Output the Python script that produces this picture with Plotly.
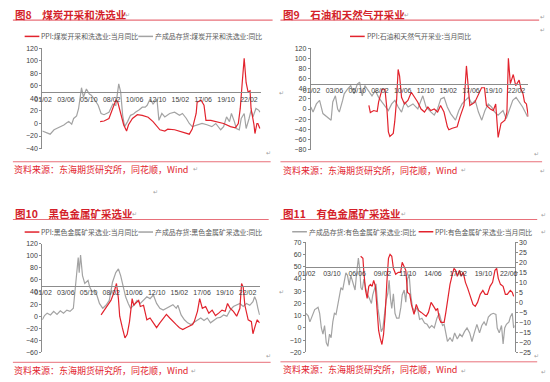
import plotly.graph_objects as go

W, H = 550, 382

# ---------------- data (decimal year, value) ----------------
ticks_a = ["01/02", "03/06", "05/10", "08/02", "10/06", "12/10", "15/02", "17/06", "19/10", "22/02"]
ticks_b = ["01/02", "03/10", "06/06", "09/02", "11/10", "14/06", "17/02", "19/10", "22/06"]

coal_inv = [(2001.0, -12), (2001.3, -14), (2001.8, -17), (2002.2, -10), (2002.5, -8), (2002.9, -5),
            (2003.2, -2.5), (2003.5, 1), (2003.7, 3), (2004.0, -1), (2004.2, 8), (2004.5, 12),
            (2004.7, 23.5), (2005.0, 57), (2005.2, 42), (2005.5, 55), (2005.8, 47), (2006.0, 45),
            (2006.3, 39), (2006.7, 29), (2007.0, 16), (2007.3, 14), (2007.5, 16), (2007.8, 18),
            (2008.2, 31), (2008.5, 29), (2008.8, 63), (2009.0, 50), (2009.2, 13), (2009.4, -5),
            (2009.7, 3), (2010.0, 13), (2010.3, 15), (2010.5, 18), (2010.9, 22), (2011.2, 26),
            (2011.5, 26), (2011.7, 29), (2012.0, 39), (2012.3, 31), (2012.7, 39), (2012.9, 5),
            (2013.2, 16), (2013.5, 10.5), (2014.0, 16), (2014.5, 18), (2015.0, 13), (2015.3, 16),
            (2015.7, 8), (2016.0, 0), (2016.3, -5), (2016.8, -2), (2017.3, 0), (2017.8, -2),
            (2018.3, -5), (2018.7, 0), (2019.2, -10), (2019.5, -5), (2019.8, 10.5), (2020.1, 3),
            (2020.3, 16), (2020.6, 3), (2020.8, -8), (2021.1, -10), (2021.3, 8), (2021.6, 16),
            (2021.8, -8), (2022.1, 8), (2022.3, 21), (2022.5, 10.5), (2022.7, 18), (2022.8, 24),
            (2023.1, 21), (2023.2, 18)]
coal_ppi = [(2006.9, 3), (2007.3, 4), (2007.8, 8), (2008.2, 26), (2008.5, 37), (2008.7, 34),
            (2009.0, 18), (2009.3, -2), (2009.6, -12), (2009.8, -2), (2010.2, 8), (2010.7, 14),
            (2011.2, 13), (2011.8, 10), (2012.3, 3), (2012.7, -5), (2013.0, -10), (2013.5, -12),
            (2013.8, -9), (2014.5, -10), (2015.2, -13), (2016.0, -17), (2016.3, -9), (2016.7, 16),
            (2016.8, 34), (2017.2, 37), (2017.5, 29), (2017.7, 5), (2018.2, 5), (2018.8, 3),
            (2019.5, 0), (2020.2, -5), (2020.7, -7), (2021.0, 0), (2021.2, 24), (2021.4, 65),
            (2021.6, 104), (2021.8, 65), (2022.0, 50), (2022.2, 52), (2022.3, 24), (2022.6, -2),
            (2022.7, -16), (2022.9, 0), (2023.0, 0), (2023.2, -8)]

oil_inv = [(2001.0, 4), (2001.23, -6), (2001.57, 10), (2001.9, 17), (2002.24, -9), (2002.58, -15),
           (2002.91, -19), (2003.08, -22), (2003.25, 14), (2003.52, 26), (2003.75, 0), (2003.92, -6),
           (2004.26, 17), (2004.42, 30), (2004.76, 39), (2005.09, 46), (2005.43, 30), (2005.77, 49),
           (2006.0, 53), (2006.27, 26), (2006.54, 46), (2006.87, 36), (2007.27, 26), (2007.61, 36),
           (2007.95, 23), (2008.28, 14), (2008.62, 4), (2008.95, -3), (2009.29, 10), (2009.62, 17),
           (2009.96, 4), (2010.3, -6), (2010.63, 14), (2010.97, 4), (2011.47, 10), (2011.97, 0),
           (2012.48, 26), (2012.81, 4), (2013.32, -6), (2013.65, -12), (2013.99, 0), (2014.32, 20),
           (2014.66, 23), (2014.99, 4), (2015.33, -9), (2015.83, -22), (2016.17, -3), (2016.5, 10),
           (2016.84, 17), (2017.17, 23), (2017.51, 10), (2017.85, 17), (2018.18, -6), (2018.52, -22),
           (2018.85, -3), (2019.19, 10), (2019.52, 4), (2019.86, -6), (2020.19, -12), (2020.7, -3),
           (2021.03, -19), (2021.37, 0), (2021.7, 17), (2022.04, 23), (2022.38, 14), (2022.71, 4),
           (2023.05, -9), (2023.21, -15)]
oil_ppi = [(2006.95, 7), (2007.1, -7), (2007.45, -3), (2007.8, -5), (2007.95, 14), (2008.3, 39),
           (2008.6, 39), (2008.8, 0), (2008.95, -45), (2009.1, -54), (2009.45, -48), (2009.6, -25),
           (2009.8, 20), (2009.95, 78), (2010.1, 65), (2010.3, 23), (2010.6, 10), (2010.95, 17),
           (2011.3, 33), (2011.65, 23), (2011.95, 14), (2012.3, 0), (2012.65, -6), (2013.0, 4),
           (2013.3, -3), (2013.65, 0), (2014.0, -6), (2014.3, 7), (2014.65, -6), (2015.0, -35),
           (2015.15, -41), (2015.5, -38), (2016.0, -35), (2016.3, -15), (2016.7, 7), (2016.95, 85),
           (2017.15, 46), (2017.3, 7), (2017.8, 13), (2018.2, 30), (2018.5, 42), (2018.8, 42),
           (2019.0, 7), (2019.4, 0), (2019.7, -3), (2019.95, 10), (2020.2, -56), (2020.5, -28),
           (2020.9, -22), (2021.1, -6), (2021.25, 100), (2021.45, 50), (2021.75, 68), (2022.0, 46),
           (2022.35, 57), (2022.55, 39), (2022.75, 30), (2022.9, 14), (2023.1, 10), (2023.3, -15)]

ferrous_inv = [(2001.0, -6), (2001.23, 1), (2001.5, 5), (2001.84, 2), (2002.17, 8), (2002.51, 3),
               (2002.85, 9), (2003.18, 5), (2003.52, 10), (2003.85, 8), (2004.19, 13), (2004.36, 45),
               (2004.52, 72), (2004.69, 97), (2004.79, 72), (2004.93, 101), (2005.13, 67), (2005.36, 54),
               (2005.7, 59), (2005.87, 48), (2006.13, 40), (2006.37, 43), (2006.6, 35), (2006.87, 21),
               (2007.21, 13), (2007.54, 18), (2007.88, 26), (2008.21, 56), (2008.55, 72), (2008.82, 78),
               (2009.05, 67), (2009.29, 48), (2009.56, 32), (2009.83, 21), (2010.06, 13), (2010.4, 18),
               (2010.73, 26), (2011.07, 21), (2011.4, 26), (2011.74, 32), (2012.07, 29), (2012.41, 35),
               (2012.74, 21), (2013.08, 13), (2013.42, 10), (2013.75, 13), (2014.09, 16), (2014.42, 19),
               (2014.76, 13), (2014.93, 18), (2015.26, 2), (2015.6, -6), (2015.93, -11), (2016.27, -14),
               (2016.6, -10), (2016.94, -6), (2017.28, -3), (2017.61, -7), (2017.95, -3), (2018.28, -11),
               (2018.62, -7), (2018.95, -3), (2019.29, -2), (2019.62, 2), (2019.96, 0), (2020.3, 10),
               (2020.63, 16), (2020.97, 18), (2021.3, 21), (2021.64, 16), (2021.97, 21), (2022.31, 18),
               (2022.64, 24), (2022.81, 32), (2022.98, 26), (2023.15, 13), (2023.32, 2)]
ferrous_ppi = [(2007.04, 2), (2007.38, 10), (2007.71, 17), (2008.05, 26), (2008.38, 40), (2008.62, 54),
               (2008.82, 29), (2008.95, 0), (2009.22, -19), (2009.49, -36), (2009.72, -30), (2009.96, -9),
               (2010.23, 29), (2010.4, 18), (2010.56, 21), (2010.9, 26), (2011.07, 16), (2011.4, 18),
               (2011.74, -6), (2012.07, -3), (2012.41, -11), (2012.74, -19), (2013.08, -11), (2013.42, -3),
               (2013.75, 3), (2014.09, -3), (2014.42, -9), (2014.76, -14), (2015.09, -19), (2015.43, -22),
               (2015.77, -19), (2016.1, -17), (2016.44, -14), (2016.61, -9), (2016.94, 8), (2017.17, 29),
               (2017.44, 13), (2017.78, 16), (2018.11, 5), (2018.45, 10), (2018.79, 1), (2019.12, 5),
               (2019.46, 10), (2019.79, 8), (2020.03, 21), (2020.3, 13), (2020.63, 8), (2020.97, 0),
               (2021.3, 13), (2021.47, 54), (2021.64, 48), (2021.81, 18), (2022.15, -6), (2022.48, -9),
               (2022.64, -29), (2022.91, -14), (2023.08, -6), (2023.32, -11)]

nonferrous_inv = [(2001.0, 12), (2001.24, 10), (2001.42, 5), (2001.69, 11), (2001.93, 15), (2002.11, 16),
                  (2002.28, 17), (2002.45, 12), (2002.63, 0), (2002.8, -5), (2002.97, 2), (2003.15, -12),
                  (2003.32, -15), (2003.49, -5), (2003.66, -8), (2003.84, 5), (2004.01, 12), (2004.18, 11),
                  (2004.36, 19), (2004.53, 27), (2004.7, 33), (2004.88, 31), (2005.05, 37), (2005.22, 45),
                  (2005.39, 43), (2005.57, 35), (2005.74, 43), (2005.98, 36), (2006.19, 31), (2006.36, 45),
                  (2006.54, 57), (2006.67, 49), (2006.81, 33), (2006.95, 31), (2007.12, 40), (2007.3, 33),
                  (2007.47, 28), (2007.71, 24), (2007.92, 20), (2008.06, 27), (2008.23, 32), (2008.4, 36),
                  (2008.61, 16), (2008.79, 4), (2008.96, -3), (2009.13, 0), (2009.3, 11), (2009.48, 23),
                  (2009.65, 28), (2009.79, 39), (2009.93, 24), (2010.07, 16), (2010.24, 28), (2010.41, 12),
                  (2010.58, 8), (2010.83, 8), (2011.03, 17), (2011.17, 27), (2011.38, 31), (2011.55, 21),
                  (2011.73, 40), (2011.9, 44), (2012.07, 27), (2012.25, 17), (2012.49, 13), (2012.76, 17),
                  (2013.01, 7), (2013.25, 8), (2013.53, 4), (2013.8, 3), (2014.04, 0), (2014.29, 2),
                  (2014.56, 0), (2014.84, 8), (2015.08, 12), (2015.26, 7), (2015.43, 2), (2015.6, 3),
                  (2015.78, -5), (2015.95, -11), (2016.22, -8), (2016.47, -11), (2016.71, -4), (2016.99, -9),
                  (2017.26, -5), (2017.5, -7), (2017.75, -3), (2018.02, 0), (2018.3, -4), (2018.54, -11),
                  (2018.79, -4), (2019.06, 3), (2019.34, -4), (2019.58, 2), (2019.82, 5), (2020.03, 2),
                  (2020.27, 9), (2020.52, 11), (2020.79, 12), (2021.07, 11), (2021.21, 0), (2021.42, -4),
                  (2021.66, 2), (2021.83, -13), (2022.0, 0), (2022.18, 3), (2022.45, 5), (2022.59, 9),
                  (2022.8, 12), (2022.94, 0), (2023.04, 2)]
nonferrous_ppi = [(2006.78, 23), (2007.02, 22), (2007.12, 15), (2007.3, 6), (2007.47, 2), (2007.64, 8),
                  (2007.82, 9), (2007.99, 8), (2008.16, 11), (2008.34, 8), (2008.51, -3), (2008.68, -14),
                  (2008.85, -18), (2009.03, -21), (2009.2, -16), (2009.37, -6), (2009.55, 10), (2009.72, 22),
                  (2009.89, 24), (2010.07, 23), (2010.24, 17), (2010.48, 14), (2010.76, 15), (2011.0, 15),
                  (2011.17, 20), (2011.38, 18), (2011.55, 16), (2011.73, 5), (2011.97, 4), (2012.14, -1),
                  (2012.42, -6), (2012.66, -1), (2012.9, -4), (2013.18, -5), (2013.46, -6), (2013.7, -7),
                  (2013.94, -5), (2014.22, 0), (2014.49, -2), (2014.74, -4), (2014.91, -3), (2015.08, -8),
                  (2015.26, -10), (2015.6, -10), (2015.78, -5), (2015.95, 1), (2016.22, 9), (2016.47, 14),
                  (2016.64, 17), (2016.81, 16), (2016.99, 13), (2017.23, 16), (2017.4, 13), (2017.61, 15),
                  (2017.85, 10), (2018.09, 7), (2018.37, 3), (2018.65, -1), (2018.89, -2), (2019.13, 0),
                  (2019.41, 4), (2019.69, 6), (2019.93, 4), (2020.17, 4), (2020.45, 8), (2020.72, 10),
                  (2020.97, 16), (2021.15, 17), (2021.32, 12), (2021.55, 9), (2021.83, 8), (2022.07, 4),
                  (2022.27, 4), (2022.59, 6), (2022.8, 5), (2022.94, 3)]

titles = ["图8　煤炭开采和洗选业", "图9　石油和天然气开采业", "图10　黑色金属矿采选业", "图11　有色金属矿采选业"]
source = "资料来源：东海期货研究所，同花顺，Wind"
names = {
    "coal_ppi": "PPI:煤炭开采和洗选业:当月同比", "coal_inv": "产成品存货:煤炭开采和洗选业:同比",
    "oil_ppi": "PPI:石油和天然气开采业:当月同比", "oil_inv": "产成品存货:石油和天然气开采业:同比",
    "fe_ppi": "PPI:黑色金属矿采选业:当月同比", "fe_inv": "产成品存货:黑色金属矿采选业:同比",
    "nf_ppi": "PPI:有色金属矿采选业:当月同比", "nf_inv": "产成品存货:有色金属矿采选业:同比",
}

# ---------------- styles ----------------
RED = "#E2232D"
GRAY = "#A3A3A3"
AXC = "#8C8C8C"
TXT = "#404040"
TITLE_RED = "#D41F2A"
LINE_PINK = "#E8707A"
CJK = "Noto Sans CJK SC"
LAT = "Liberation Sans, Arial, sans-serif"


def tick_year(s):
    return 2000 + int(s[:2]) + (int(s[3:]) - 1) / 12


def fx(px):
    return px / W


def fy(py):
    return 1 - py / H


fig = go.Figure()


def add(series, xa, ya, color, name):
    fig.add_trace(go.Scatter(
        x=[p[0] for p in series], y=[p[1] for p in series], xaxis=xa, yaxis=ya,
        mode="lines", line=dict(color=color, width=1.2), name=name,
        showlegend=False, hoverinfo="skip"))


add(coal_inv, "x", "y", GRAY, names["coal_inv"])
add(coal_ppi, "x", "y", RED, names["coal_ppi"])
add(oil_inv, "x2", "y2", GRAY, names["oil_inv"])
add(oil_ppi, "x2", "y2", RED, names["oil_ppi"])
add(ferrous_inv, "x3", "y3", GRAY, names["fe_inv"])
add(ferrous_ppi, "x3", "y3", RED, names["fe_ppi"])
add(nonferrous_inv, "x4", "y4", GRAY, names["nf_inv"])
add(nonferrous_ppi, "x4", "y5", RED, names["nf_ppi"])

panels = [
    dict(xp=(35, 258), yp=(45, 147.3), yr=(-40, 120), dt=20, xr=(2001.0, 2023.3), ticks=ticks_a),
    dict(xp=(309, 531), yp=(45, 148.3), yr=(-80, 120), dt=20, xr=(2001.0, 2023.3), ticks=ticks_a),
    dict(xp=(35, 257), yp=(244, 355), yr=(-60, 120), dt=20, xr=(2001.0, 2023.35), ticks=ticks_a),
    dict(xp=(304, 517), yp=(242.7, 355), yr=(-20, 70), dt=10, xr=(2001.0, 2023.05), ticks=ticks_b),
]

layout = dict(width=W, height=H, margin=dict(l=0, r=0, t=0, b=0),
              paper_bgcolor="white", plot_bgcolor="white", showlegend=False)

for i, p in enumerate(panels, start=1):
    sfx = "" if i == 1 else str(i)
    y0, y1 = fy(p["yp"][1]), fy(p["yp"][0])
    ymin, ymax = p["yr"]
    cross = y0 + (50 - ymin) / (ymax - ymin) * (y1 - y0)
    layout["xaxis" + sfx] = dict(
        domain=[fx(p["xp"][0]), fx(p["xp"][1])], anchor="free", position=cross,
        range=list(p["xr"]), tickvals=[tick_year(t) for t in p["ticks"]], ticktext=p["ticks"],
        showline=True, linecolor=AXC, linewidth=1, ticks="", showgrid=False, zeroline=False,
        tickfont=dict(family=LAT, size=7, color=TXT), fixedrange=True)
    layout["yaxis" + sfx] = dict(
        domain=[y0, y1], anchor="x" + sfx, range=[ymin, ymax], dtick=p["dt"],
        showline=True, linecolor=AXC, linewidth=1, ticks="outside", ticklen=2, tickcolor=AXC,
        showgrid=False, zeroline=False, tickfont=dict(family=LAT, size=7, color=TXT), fixedrange=True)

layout["yaxis5"] = dict(
    overlaying="y4", side="right", anchor="x4", range=[-25, 30], dtick=5,
    showline=True, linecolor=AXC, linewidth=1, ticks="outside", ticklen=2, tickcolor=AXC,
    showgrid=False, zeroline=False, tickfont=dict(family=LAT, size=7, color=TXT), fixedrange=True)

shapes = []
annotations = []


def hline(x0, x1, y, color, width=1):
    shapes.append(dict(type="line", xref="paper", yref="paper", x0=fx(x0), x1=fx(x1),
                       y0=fy(y), y1=fy(y), line=dict(color=color, width=width)))


def text(x, y, s, size, color, bold=False, family=CJK):
    if bold:
        s = "<b>" + s + "</b>"
    annotations.append(dict(xref="paper", yref="paper", x=fx(x), y=fy(y), text=s, showarrow=False,
                            xanchor="left", yanchor="middle", borderpad=0,
                            font=dict(family=family, size=size, color=color)))


# titles, underline rules, dividers and source notes
title_pos = [(6, 11, 5, 270, 16.5), (280, 11, 278, 542, 16.5),
             (6, 213, 5, 266, 219.5), (280, 213, 278, 540, 219.5)]
for t, (tx, ty, lx0, lx1, ly) in zip(titles, title_pos):
    text(tx, ty, t, 10.5, TITLE_RED, bold=True)
    hline(lx0, lx1, ly, LINE_PINK, 1.2)

src_pos = [(5, 168.3, 5, 268, 160.7), (280, 169.3, 278, 545, 160.7),
           (5, 373.3, 5, 268, 365), (280, 372.7, 278, 540, 364.5)]
for (sx, sy, lx0, lx1, ly) in src_pos:
    text(sx, sy, source, 9, RED)
    hline(lx0, lx1, ly, LINE_PINK, 1)

# legends
legends = [
    (17, 33, RED, names["coal_ppi"]), (133, 33, GRAY, names["coal_inv"]),
    (349, 33, RED, names["oil_ppi"]),
    (17, 232.3, RED, names["fe_ppi"]), (133, 232.3, GRAY, names["fe_inv"]),
    (290, 232, GRAY, names["nf_inv"]), (419, 232, RED, names["nf_ppi"]),
]
for (lx, ly, c, n) in legends:
    hline(lx, lx + 15, ly, c, 1.5)
    text(lx + 16, ly, n, 6.9, "#595959")

# paragraph marks from the source document
marks = [(118, 11), (403, 11), (542, 13), (542, 26), (262, 151), (275, 90), (536, 152),
         (188, 168), (461, 169), (542, 170), (147, 191), (125, 213), (400, 213), (543, 214),
         (543, 232), (276, 293), (262, 358), (536, 358), (186, 373), (461, 373), (543, 374)]
for (mx, my) in marks:
    text(mx, my, "↵", 6, "#A0A0A0", family="DejaVu Sans")

layout["shapes"] = shapes
layout["annotations"] = annotations
fig.update_layout(**layout)
fig.write_html("out.html", config={"displayModeBar": False},
               post_script="document.body.style.margin='0px';")
